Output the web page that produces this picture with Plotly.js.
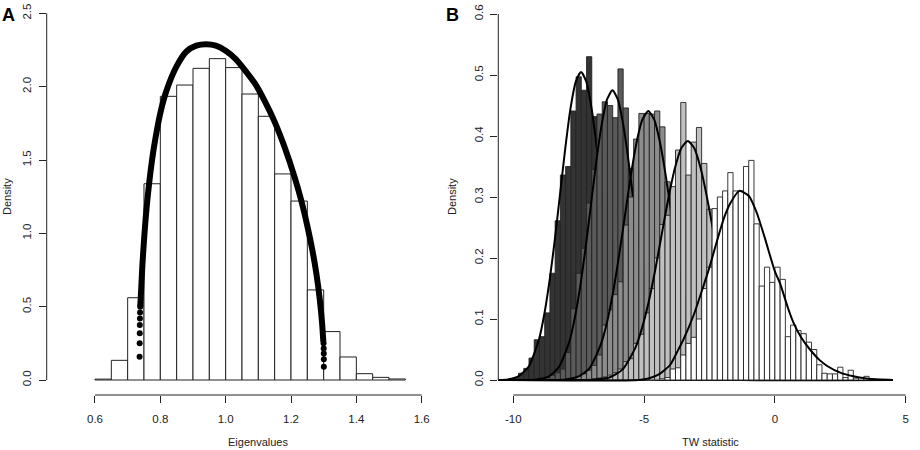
<!DOCTYPE html>
<html>
<head>
<meta charset="utf-8">
<script src="https://cdn.plot.ly/plotly-3.0.1.min.js"></script>
<style>
  html, body { margin: 0; padding: 0; background: #ffffff; }
  #chart { width: 920px; height: 450px; }
</style>
</head>
<body>
<div id="chart"></div>
<script>
// ---------- Panel A: sample eigenvalues (bins of 0.05) and limiting density ----------
const eigBinStart = 0.60;
const eigBinWidth = 0.05;
const eigDensity = [0.006, 0.134, 0.561, 1.338, 1.934, 2.011, 2.125, 2.191, 2.130, 1.950,
                    1.798, 1.405, 1.220, 0.614, 0.330, 0.157, 0.043, 0.018, 0.007];

const mpCurveX = [0.7385, 0.741, 0.745, 0.750, 0.755, 0.760, 0.770, 0.780, 0.800, 0.820,
                  0.850, 0.880, 0.910, 0.940, 0.970, 1.000, 1.030, 1.060, 1.090, 1.120,
                  1.150, 1.180, 1.210, 1.230, 1.250, 1.265, 1.278, 1.288, 1.295, 1.299];
const mpCurveY = [0.50, 0.60, 0.78, 0.95, 1.10, 1.22, 1.42, 1.58, 1.82, 1.98,
                  2.14, 2.24, 2.28, 2.29, 2.28, 2.245, 2.19, 2.11, 2.02, 1.90,
                  1.76, 1.59, 1.39, 1.235, 1.05, 0.89, 0.72, 0.55, 0.39, 0.26];
// individual evaluation points visible at the steep ends of the density
const mpDotsX = [0.7365, 0.7368, 0.7370, 0.7373, 0.7376, 0.7380, 0.7385,
                 1.3005, 1.3005, 1.3003, 1.3000, 1.2995];
const mpDotsY = [0.159, 0.250, 0.318, 0.375, 0.420, 0.461, 0.500,
                 0.090, 0.141, 0.180, 0.215, 0.250];

// ---------- Panel B: TW statistics (bins of 0.2) for five settings ----------
const twBinWidth = 0.2;
const twBinStarts = [-10.0, -9.2, -8.0, -7.0, -4.4];
const twDensity1 = [0.003, 0.011, 0.019, 0.036, 0.066, 0.071, 0.110, 0.175, 0.261, 0.336,
                    0.350, 0.441, 0.497, 0.475, 0.530, 0.432, 0.370, 0.300, 0.235, 0.165,
                    0.115, 0.070, 0.040, 0.020, 0.010, 0.005, 0.002];
const twDensity2 = [0.002, 0.003, 0.005, 0.008, 0.012, 0.018, 0.045, 0.117, 0.175, 0.216,
                    0.290, 0.345, 0.436, 0.456, 0.450, 0.430, 0.510, 0.446, 0.347, 0.260,
                    0.190, 0.130, 0.085, 0.050, 0.028, 0.014, 0.006, 0.002];
const twDensity3 = [0.002, 0.004, 0.006, 0.010, 0.016, 0.024, 0.041, 0.090, 0.115, 0.140,
                    0.161, 0.254, 0.300, 0.395, 0.437, 0.437, 0.436, 0.441, 0.415, 0.325,
                    0.220, 0.170, 0.120, 0.080, 0.050, 0.030, 0.015, 0.008, 0.003];
const twDensity4 = [0.002, 0.003, 0.005, 0.008, 0.012, 0.018, 0.030, 0.035, 0.060, 0.075,
                    0.110, 0.150, 0.200, 0.255, 0.270, 0.317, 0.377, 0.455, 0.336, 0.390,
                    0.414, 0.355, 0.280, 0.220, 0.170, 0.120, 0.080, 0.050, 0.030, 0.015,
                    0.008, 0.003];
const twDensity5 = [0.002, 0.004, 0.018, 0.020, 0.041, 0.060, 0.070, 0.100, 0.150, 0.185,
                    0.281, 0.300, 0.310, 0.340, 0.310, 0.310, 0.350, 0.360, 0.256, 0.154,
                    0.185, 0.160, 0.185, 0.165, 0.071, 0.090, 0.081, 0.076, 0.062, 0.050,
                    0.025, 0.011, 0.010, 0.010, 0.021, 0.004, 0.016, 0.003, 0.004, 0.006,
                    0.002, 0.001, 0.001, 0.001];
const twDensities = [twDensity1, twDensity2, twDensity3, twDensity4, twDensity5];

// fitted densities, each drawn right after its own histogram
const twCurve1X = [-10.61, -10.21, -9.81, -9.41, -9.01, -8.81, -8.61, -8.41, -8.21, -8.01,
                   -7.81, -7.61, -7.41, -7.21, -7.01, -6.81, -6.61, -6.41, -6.21, -6.01,
                   -5.81, -5.41, -5.01, -4.61, -4.21, 4.50];
const twCurve1Y = [0.000, 0.001, 0.006, 0.022, 0.068, 0.109, 0.164, 0.231, 0.306, 0.381,
                   0.446, 0.489, 0.505, 0.489, 0.446, 0.381, 0.306, 0.231, 0.164, 0.109,
                   0.068, 0.022, 0.006, 0.001, 0.000, 0.000];
const twCurve2X = [-10.58, -9.49, -9.08, -8.67, -8.26, -7.85, -7.645, -7.44, -7.235, -7.03,
                   -6.825, -6.62, -6.415, -6.21, -6.005, -5.80, -5.595, -5.39, -5.185, -4.98,
                   -4.775, -4.57, -4.16, -3.75, -3.34, -2.93, 4.50];
const twCurve2Y = [0.000, 0.000, 0.001, 0.005, 0.021, 0.064, 0.103, 0.154, 0.217, 0.288,
                   0.359, 0.419, 0.460, 0.475, 0.460, 0.419, 0.359, 0.288, 0.217, 0.154,
                   0.103, 0.064, 0.021, 0.005, 0.001, 0.000, 0.000];
const twCurve3X = [-10.58, -8.44, -7.99, -7.54, -7.09, -6.64, -6.415, -6.19, -5.965, -5.74,
                   -5.515, -5.29, -5.065, -4.84, -4.615, -4.39, -4.165, -3.94, -3.715, -3.49,
                   -3.265, -3.04, -2.59, -2.14, -1.69, -1.24, 4.50];
const twCurve3Y = [0.000, 0.000, 0.001, 0.005, 0.019, 0.060, 0.095, 0.143, 0.202, 0.267,
                   0.333, 0.389, 0.427, 0.441, 0.427, 0.389, 0.333, 0.267, 0.202, 0.143,
                   0.095, 0.060, 0.019, 0.005, 0.001, 0.000, 0.000];
const twCurve4X = [-10.58, -7.33, -6.83, -6.33, -5.83, -5.33, -5.08, -4.83, -4.58, -4.33,
                   -4.08, -3.83, -3.58, -3.33, -3.08, -2.83, -2.58, -2.33, -2.08, -1.83,
                   -1.58, -1.33, -0.83, -0.33, 0.17, 0.67, 4.50];
const twCurve4Y = [0.000, 0.000, 0.001, 0.004, 0.017, 0.053, 0.085, 0.127, 0.179, 0.238,
                   0.296, 0.346, 0.380, 0.392, 0.380, 0.346, 0.296, 0.238, 0.179, 0.127,
                   0.085, 0.053, 0.017, 0.004, 0.001, 0.000, 0.000];
const twCurve5X = [-10.58, -5.2, -4.8, -4.4, -4.0, -3.75, -3.5, -3.1, -2.8, -2.5, -2.2,
                   -1.95, -1.7, -1.36, -1.0, -0.7, -0.4, 0.0, 0.2, 0.5, 0.7,
                   1.0, 1.34, 1.7, 2.0, 2.5, 3.0, 3.5, 4.0, 4.5];
const twCurve5Y = [0.000, 0.000, 0.003, 0.010, 0.025, 0.045, 0.066, 0.107, 0.145, 0.185, 0.230,
                   0.265, 0.290, 0.310, 0.302, 0.275, 0.235, 0.178, 0.158, 0.118, 0.095,
                   0.070, 0.050, 0.033, 0.023, 0.012, 0.006, 0.0025, 0.001, 0.000];
const twCurvesX = [twCurve1X, twCurve2X, twCurve3X, twCurve4X, twCurve5X];
const twCurvesY = [twCurve1Y, twCurve2Y, twCurve3Y, twCurve4Y, twCurve5Y];

// tick labels
const eigTicks = [0.6, 0.8, 1.0, 1.2, 1.4, 1.6];
const eigTickText = ['0.6', '0.8', '1.0', '1.2', '1.4', '1.6'];
const eigDensTicks = [0, 0.5, 1.0, 1.5, 2.0, 2.5];
const eigDensTickText = ['0.0', '0.5', '1.0', '1.5', '2.0', '2.5'];
const twTicks = [-10, -5, 0, 5];
const twTickText = ['-10', '-5', '0', '5'];
const twDensTicks = [0, 0.1, 0.2, 0.3, 0.4, 0.5, 0.6];
const twDensTickText = ['0.0', '0.1', '0.2', '0.3', '0.4', '0.5', '0.6'];

// ---------- styling ----------
const FONT = 'Liberation Sans, Arial, Helvetica, sans-serif';
const INK = '#222222';
const twFills = ['#333333', '#5a5a5a', '#8c8c8c', '#c0c0c0', '#ffffff'];

function centres(start, width, n) {
  const out = [];
  for (let i = 0; i < n; i++) out.push(+(start + width * (i + 0.5)).toFixed(4));
  return out;
}

const traces = [];

traces.push({
  type: 'bar', xaxis: 'x', yaxis: 'y',
  x: centres(eigBinStart, eigBinWidth, eigDensity.length),
  y: eigDensity, width: eigBinWidth,
  marker: { color: '#ffffff', line: { color: INK, width: 1 } },
  hoverinfo: 'skip'
});
traces.push({
  type: 'scatter', mode: 'lines', xaxis: 'x', yaxis: 'y',
  x: mpCurveX, y: mpCurveY,
  line: { color: '#000000', width: 6, shape: 'spline', smoothing: 0.8 },
  hoverinfo: 'skip'
});
traces.push({
  type: 'scatter', mode: 'markers', xaxis: 'x', yaxis: 'y',
  x: mpDotsX, y: mpDotsY,
  marker: { color: '#000000', size: 6 },
  hoverinfo: 'skip'
});

// each histogram + its curve sits on its own overlaid subplot so that
// later histograms cover the earlier curves, layer by layer
twDensities.forEach((d, k) => {
  const xa = 'x' + (k + 2), ya = 'y' + (k + 2);
  traces.push({
    type: 'bar', xaxis: xa, yaxis: ya,
    x: centres(twBinStarts[k], twBinWidth, d.length),
    y: d, width: twBinWidth,
    marker: { color: twFills[k], line: { color: INK, width: 0.9 } },
    hoverinfo: 'skip'
  });
  traces.push({
    type: 'scatter', mode: 'lines', xaxis: xa, yaxis: ya,
    x: twCurvesX[k], y: twCurvesY[k],
    line: { color: '#000000', width: 2, shape: 'spline', smoothing: 0.6 },
    hoverinfo: 'skip'
  });
});

const W = 920, PLOT_H = 395;
const px = v => v / W;                 // horizontal pixel -> paper
const py = v => (PLOT_H - v) / PLOT_H; // vertical pixel (from top) -> paper

const axisCommon = {
  showgrid: false, zeroline: false, showline: false,
  ticks: 'outside', ticklen: 7, tickwidth: 1, tickcolor: INK,
  ticklabelstandoff: 3,
  tickfont: { family: FONT, size: 11.5, color: INK },
  fixedrange: true
};

const twXRange = [-10.5734, 5.0806];
const twYRange = [-0.02459, 0.62295];

const layout = {
  width: 920, height: 450,
  margin: { l: 0, r: 0, t: 0, b: 55 },
  paper_bgcolor: '#ffffff', plot_bgcolor: 'rgba(0,0,0,0)',
  showlegend: false, barmode: 'overlay',
  font: { family: FONT, color: INK },
  xaxis: Object.assign({}, axisCommon, {
    domain: [px(46.7), px(436)], range: [0.4522, 1.6438], ticklabelstandoff: 6,
    tickmode: 'array', tickvals: eigTicks, ticktext: eigTickText, anchor: 'y'
  }),
  yaxis: Object.assign({}, axisCommon, {
    domain: [0, 1], range: [-0.1023, 2.5909],
    tickmode: 'array', tickvals: eigDensTicks, ticktext: eigDensTickText,
    tickangle: -90, anchor: 'x'
  }),
  xaxis2: Object.assign({}, axisCommon, {
    domain: [px(498.3), px(907.8)], range: twXRange, ticklabelstandoff: 6,
    tickmode: 'array', tickvals: twTicks, ticktext: twTickText, anchor: 'y2'
  }),
  yaxis2: Object.assign({}, axisCommon, {
    domain: [0, 1], range: twYRange,
    tickmode: 'array', tickvals: twDensTicks, ticktext: twDensTickText,
    tickangle: -90, anchor: 'x2'
  }),
  shapes: [
    { type: 'line', xref: 'x', yref: 'paper', x0: 0.6, x1: 1.6, y0: 0, y1: 0,
      line: { color: INK, width: 1 } },
    { type: 'line', xref: 'paper', yref: 'y', x0: px(46.7), x1: px(46.7), y0: 0, y1: 2.5,
      line: { color: INK, width: 1 } },
    { type: 'line', xref: 'x2', yref: 'paper', x0: -10, x1: 5, y0: 0, y1: 0,
      line: { color: INK, width: 1 } },
    { type: 'line', xref: 'paper', yref: 'y2', x0: px(498.3), x1: px(498.3), y0: 0, y1: 0.6,
      line: { color: INK, width: 1 } }
  ],
  annotations: [
    { text: 'Eigenvalues', xref: 'paper', yref: 'paper', x: px(258), y: py(442),
      showarrow: false, xanchor: 'center', yanchor: 'middle',
      font: { family: FONT, size: 11, color: INK } },
    { text: 'TW statistic', xref: 'paper', yref: 'paper', x: px(710), y: py(442),
      showarrow: false, xanchor: 'center', yanchor: 'middle',
      font: { family: FONT, size: 11, color: INK } },
    { text: 'Density', xref: 'paper', yref: 'paper', x: px(7), y: py(197),
      showarrow: false, textangle: -90, xanchor: 'center', yanchor: 'middle',
      font: { family: FONT, size: 11, color: INK } },
    { text: 'Density', xref: 'paper', yref: 'paper', x: px(452), y: py(197),
      showarrow: false, textangle: -90, xanchor: 'center', yanchor: 'middle',
      font: { family: FONT, size: 11, color: INK } },
    { text: '<b>A</b>', xref: 'paper', yref: 'paper', x: px(0), y: py(15),
      showarrow: false, xanchor: 'left', yanchor: 'middle',
      font: { family: FONT, size: 18, color: '#000000' } },
    { text: '<b>B</b>', xref: 'paper', yref: 'paper', x: px(452), y: py(15),
      showarrow: false, xanchor: 'center', yanchor: 'middle',
      font: { family: FONT, size: 18, color: '#000000' } }
  ]
};

// overlaid, invisible axes sharing panel B's scales
for (let k = 3; k <= 6; k++) {
  layout['xaxis' + k] = { overlaying: 'x2', anchor: 'y' + k, range: twXRange,
                          visible: false, fixedrange: true };
  layout['yaxis' + k] = { overlaying: 'y2', anchor: 'x' + k, range: twYRange,
                          visible: false, fixedrange: true };
}

Plotly.newPlot('chart', traces, layout, { staticPlot: true, displayModeBar: false });
</script>
</body>
</html>
